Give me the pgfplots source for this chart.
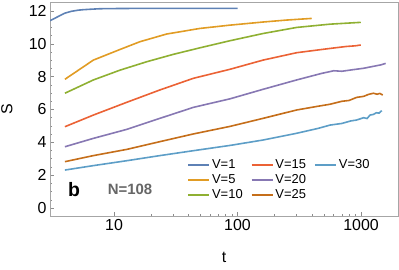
\documentclass[border=0pt]{standalone}
\usepackage{fontspec}
\setmainfont{Liberation Sans}
\usepackage{pgfplots}
\pgfplotsset{compat=1.18}
\definecolor{cA}{HTML}{5E81B5}
\definecolor{cB}{HTML}{E19C24}
\definecolor{cC}{HTML}{8FB032}
\definecolor{cD}{HTML}{EB6235}
\definecolor{cE}{HTML}{8778B3}
\definecolor{cF}{HTML}{C56E1A}
\definecolor{cG}{HTML}{5D9EC7}
\begin{document}
\begin{tikzpicture}
\begin{axis}[
  scale only axis, width=348bp, height=214bp,
  xmode=log, xmin=3.03, xmax=1993, ymin=-0.49, ymax=12.55,
  xtick={10,100,1000}, xticklabels={10,100,1000},
  ytick={0,2,4,6,8,10,12}, minor y tick num=3,
  xtick pos=bottom, ytick pos=left,
  tick align=inside,
  major tick length=4bp, minor tick length=2.5bp,
  axis line style={black!35},
  tick style={black!45, line width=0.5bp},
  /pgf/number format/assume math mode=true,
  ticklabel style={font=\fontsize{16}{18}\selectfont},
  every axis x label/.style={at={(axis description cs:0.5,-0.194)}, anchor=center, font=\fontsize{16}{18}\selectfont},
  every axis y label/.style={at={(axis description cs:-0.1236,0.5)}, anchor=center, rotate=90, font=\fontsize{16}{18}\selectfont},
  xlabel={t}, ylabel={S},
  legend columns=3,
  legend cell align=left,
  legend image code/.code={\draw[line width=1.8bp,#1] (0bp,0bp) -- (21bp,0bp);},
  legend style={draw=none, fill=none, at={(axis description cs:0.394,0.275)}, anchor=north west,
    font=\fontsize{13}{15}\selectfont, inner sep=0pt, row sep=0.5bp,
    /tikz/every even column/.append style={column sep=6bp}},
]
\addlegendimage{draw=cA}\addlegendentry{V=1}
\addlegendimage{draw=cD}\addlegendentry{V=15}
\addlegendimage{draw=cG}\addlegendentry{V=30}
\addlegendimage{draw=cB}\addlegendentry{V=5}
\addlegendimage{draw=cE}\addlegendentry{V=20}
\addlegendimage{empty legend}\addlegendentry{}
\addlegendimage{draw=cC}\addlegendentry{V=10}
\addlegendimage{draw=cF}\addlegendentry{V=25}

\addplot[cA, line width=1.6bp, forget plot] coordinates {(3.03,11.41) (3.3,11.55) (3.6,11.70) (4,11.87) (4.5,11.98) (5.1,12.05) (5.6,12.08) (6.5,12.11) (7.7,12.14) (10,12.15) (15,12.16) (30,12.16) (100,12.16)};
\addplot[cB, line width=1.6bp, forget plot] coordinates {(4,7.84) (6.8,9.01) (11.2,9.66) (16.2,10.13) (26.7,10.6) (49.7,10.94) (86.9,11.14) (161,11.33) (250,11.45) (399,11.55)};
\addplot[cC, line width=1.6bp, forget plot] coordinates {(4,6.99) (6.8,7.80) (11.2,8.40) (18.4,8.91) (30.2,9.36) (49.7,9.76) (86.9,10.19) (161,10.63) (301,11.0) (561,11.2) (995,11.31)};
\addplot[cD, line width=1.6bp, forget plot] coordinates {(4,4.95) (6.8,5.66) (12.7,6.44) (23.5,7.19) (43.9,7.90) (86.9,8.45) (161,9.01) (301,9.46) (420,9.60) (561,9.72) (760,9.84) (900,9.88) (995,9.93)};
\addplot[cE, line width=1.6bp, forget plot] coordinates {(4,3.73) (6.8,4.24) (12.7,4.79) (23.5,5.46) (43.9,6.13) (86.9,6.65) (161,7.23) (301,7.80) (480,8.20) (561,8.31) (600,8.36) (700,8.33) (850,8.42) (1045,8.51) (1300,8.65) (1450,8.72) (1584,8.81)};
\addplot[cF, line width=1.6bp, forget plot] coordinates {(4,2.82) (6.8,3.19) (12.7,3.57) (23.5,4.04) (43.9,4.51) (86.9,4.97) (161,5.46) (301,5.97) (450,6.20) (561,6.32) (700,6.50) (800,6.55) (923,6.74) (1050,6.80) (1150,6.92) (1259,6.99) (1350,6.93) (1420,6.98) (1500,6.88)};
\addplot[cG, line width=1.6bp, forget plot] coordinates {(4,2.31) (6.8,2.58) (12.7,2.88) (23.5,3.19) (43.9,3.49) (86.9,3.81) (161,4.14) (301,4.55) (450,4.85) (561,5.05) (700,5.15) (823,5.30) (923,5.36) (1050,5.50) (1120,5.45) (1183,5.66) (1260,5.70) (1330,5.80) (1400,5.78) (1472,5.93)};

\node[anchor=base, font=\fontsize{19.5}{22}\selectfont\bfseries] at (axis description cs:0.069,0.0888) {b};
\node[anchor=base, font=\fontsize{15}{17}\selectfont\bfseries, text=black!60] at (axis description cs:0.2299,0.1028) {N=108};
\end{axis}
\pgfresetboundingbox
\path (current axis.south west) ++(-50bp,-54bp) rectangle ++(399bp,270bp);
\end{tikzpicture}
\end{document}
